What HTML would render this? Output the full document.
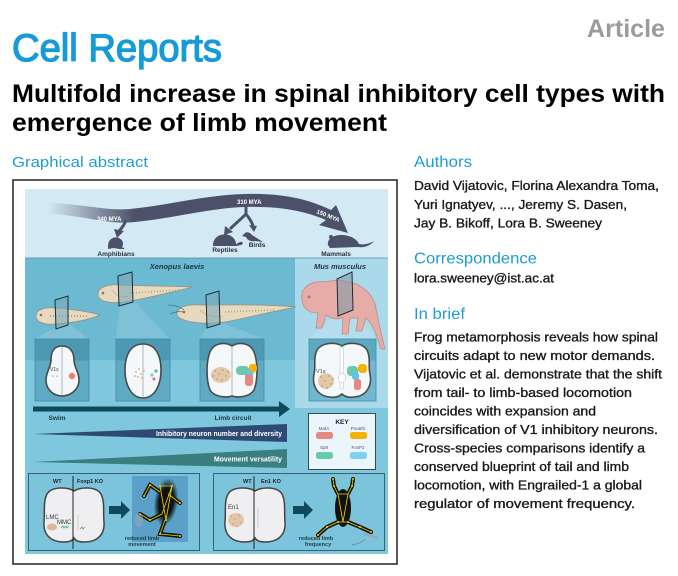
<!DOCTYPE html>
<html><head><meta charset="utf-8"><style>
html,body{margin:0;padding:0;background:#fff;}
svg{display:block;}
text{font-family:"Liberation Sans",Arial,sans-serif;}
</style></head><body>
<svg width="678" height="576" viewBox="0 0 678 576" xmlns="http://www.w3.org/2000/svg">
<defs>
<linearGradient id="arcg" gradientUnits="userSpaceOnUse" x1="48" y1="0" x2="135" y2="0">
<stop offset="0" stop-color="#4c516a" stop-opacity="0"/>
<stop offset="1" stop-color="#4c516a" stop-opacity="1"/>
</linearGradient>
<radialGradient id="frogblur" cx="0.5" cy="0.5" r="0.5">
<stop offset="0.6" stop-color="#111" stop-opacity="1"/>
<stop offset="1" stop-color="#111" stop-opacity="0"/>
</radialGradient>
</defs>

<!-- HEADER -->
<text x="587" y="37" font-size="25" font-weight="bold" fill="#9b9b9b" textLength="78" lengthAdjust="spacingAndGlyphs">Article</text>
<text x="12" y="61" font-size="39" fill="#169bd6" stroke="#169bd6" stroke-width="1.3" textLength="210" lengthAdjust="spacingAndGlyphs">Cell Reports</text>
<text x="12" y="102" font-size="25" font-weight="bold" fill="#000" textLength="653" lengthAdjust="spacingAndGlyphs">Multifold increase in spinal inhibitory cell types with</text>
<text x="12" y="131" font-size="25" font-weight="bold" fill="#000" textLength="375" lengthAdjust="spacingAndGlyphs">emergence of limb movement</text>
<text x="12" y="167" font-size="15" fill="#1f9cd5" textLength="136" lengthAdjust="spacingAndGlyphs">Graphical abstract</text>

<!-- RIGHT COLUMN -->
<g fill="#1a1a1a" font-size="13" stroke="#1a1a1a" stroke-width="0.35">
<text x="414" y="190" textLength="245" lengthAdjust="spacingAndGlyphs">David Vijatovic, Florina Alexandra Toma,</text>
<text x="414" y="209" textLength="213" lengthAdjust="spacingAndGlyphs">Yuri Ignatyev, ..., Jeremy S. Dasen,</text>
<text x="414" y="227.5" textLength="188" lengthAdjust="spacingAndGlyphs">Jay B. Bikoff, Lora B. Sweeney</text>
<text x="414" y="282.5" textLength="140" lengthAdjust="spacingAndGlyphs">lora.sweeney@ist.ac.at</text>
<text x="414" y="341.5" textLength="244" lengthAdjust="spacingAndGlyphs">Frog metamorphosis reveals how spinal</text>
<text x="414" y="360" textLength="241" lengthAdjust="spacingAndGlyphs">circuits adapt to new motor demands.</text>
<text x="414" y="378.5" textLength="248" lengthAdjust="spacingAndGlyphs">Vijatovic et al. demonstrate that the shift</text>
<text x="414" y="397" textLength="218" lengthAdjust="spacingAndGlyphs">from tail- to limb-based locomotion</text>
<text x="414" y="415.5" textLength="182" lengthAdjust="spacingAndGlyphs">coincides with expansion and</text>
<text x="414" y="434" textLength="244" lengthAdjust="spacingAndGlyphs">diversification of V1 inhibitory neurons.</text>
<text x="414" y="452.5" textLength="231" lengthAdjust="spacingAndGlyphs">Cross-species comparisons identify a</text>
<text x="414" y="471" textLength="215" lengthAdjust="spacingAndGlyphs">conserved blueprint of tail and limb</text>
<text x="414" y="489.5" textLength="228" lengthAdjust="spacingAndGlyphs">locomotion, with Engrailed-1 a global</text>
<text x="414" y="508" textLength="221" lengthAdjust="spacingAndGlyphs">regulator of movement frequency.</text>
</g>
<g fill="#1f9cd5" font-size="15.5">
<text x="414" y="167" textLength="58" lengthAdjust="spacingAndGlyphs">Authors</text>
<text x="414" y="263.5" textLength="123" lengthAdjust="spacingAndGlyphs">Correspondence</text>
<text x="414" y="319" textLength="51" lengthAdjust="spacingAndGlyphs">In brief</text>
</g>

<!-- GRAPHICAL ABSTRACT FRAME -->
<rect x="13" y="180" width="384" height="384" fill="#fff" stroke="#222" stroke-width="1.5"/>
<rect x="25" y="189" width="363" height="69" fill="#d3e9f3"/>
<rect x="25" y="258" width="363" height="296" fill="#7fc7dd"/>
<rect x="25" y="258" width="270" height="102" fill="#6cb9d2"/>
<rect x="295" y="258" width="93" height="150" fill="#a9d9eb"/>
<line x1="25" y1="258" x2="388" y2="258" stroke="#4f8ea8" stroke-width="0.8"/>

<!-- evolution arc -->
<path d="M48,203 C85,204 105,211 130,209 C170,205 205,195 245,194 C285,193 310,200 331,210 L336,205 L348,233 L319,225 L326,220 C305,211 280,206 245,207 C210,208 175,218 135,222 C105,225 85,215 48,214 Z" fill="url(#arcg)"/>
<g stroke="#4c516a" stroke-width="3" fill="none">
<path d="M126,220 C124,226 121,229 119,231"/>
<path d="M246,207 L246,214 C240,220 234,225 230,229"/>
<path d="M246,214 C250,219 252,222 253,226"/>
</g>
<g fill="#4c516a">
<polygon points="114,229 124,231 117,238"/>
<polygon points="225,226 233,232 224,235"/>
<polygon points="249,225 257,226 254,232"/>
<path d="M108,246 C108,239 114,236 119,238 C123,240 124,244 122,247 L125,249 L119,249 L114,248 L108,249 Z"/>
<path d="M213,244 C214,236 222,233 229,235 C234,237 236,241 236,244 L240,242 C243,241 244,244 241,245 L236,246 L213,246 Z"/>
<path d="M244,234 C246,231 250,232 252,235 C255,237 260,240 263,242 L255,241 C251,242 247,240 246,237 L242,236 Z"/>
<path d="M328,245 C327,239 333,235 341,235 C350,235 357,239 359,244 C363,245 369,244 374,241 C370,246 364,248 358,247 L330,248 Z"/>
<circle cx="331" cy="237" r="2"/>
</g>
<g font-size="6.5" font-weight="bold" fill="#2b2f3c" text-anchor="middle">
<text x="116" y="256">Amphibians</text>
<text x="225" y="252">Reptiles</text>
<text x="257" y="247">Birds</text>
<text x="336" y="256">Mammals</text>
</g>
<g font-size="6" font-weight="bold" fill="#ffffff">
<text x="97" y="221">340 MYA</text>
<text x="237" y="204">310 MYA</text>
<text x="316" y="213" transform="rotate(22 316 213)">150 MYA</text>
</g>

<g font-size="7.5" font-weight="bold" font-style="italic" fill="#1f3540" text-anchor="middle">
<text x="177" y="269">Xenopus laevis</text>
<text x="340" y="269">Mus musculus</text>
</g>

<!-- projection wedges -->
<g fill="#ffffff" fill-opacity="0.13">
<polygon points="56,327 35,339 89,339 68,323"/>
<polygon points="120,304 116,339 170,339 133,300"/>
<polygon points="207,326 200,339 264,339 220,322"/>
<polygon points="338,314 309,339 376,339 352,309"/>
</g>

<!-- tadpole 1 -->
<path d="M36,316 C36,310 44,307 55,308 C70,309 86,311 100,315 C88,320 72,323 55,324 C44,325 36,322 36,316 Z" fill="#e6d9be" stroke="#9c8d72" stroke-width="0.7"/>
<circle cx="41" cy="315" r="1.3" fill="#8a6f55"/>
<line x1="50" y1="316" x2="88" y2="316" stroke="#b0a084" stroke-width="2" stroke-dasharray="1 2"/>
<polygon points="55,300 68,296 68,325 56,329" fill="#7aaabb" fill-opacity="0.6" stroke="#1c2c36" stroke-width="1"/>
<!-- tadpole 2 -->
<path d="M98,294 C98,287 108,284 122,285 C142,286 168,286 193,287 C172,292 148,298 125,302 C108,304 98,301 98,294 Z" fill="#e6d9be" stroke="#9c8d72" stroke-width="0.7"/>
<circle cx="103" cy="293" r="1.3" fill="#8a6f55"/>
<path d="M112,290 C116,296 122,298 128,296" stroke="#b8a88c" stroke-width="0.6" fill="none"/>
<line x1="130" y1="293" x2="180" y2="290" stroke="#b0a084" stroke-width="1.5" stroke-dasharray="1 2"/>
<polygon points="118,276 132,272 133,302 119,306" fill="#7aaabb" fill-opacity="0.6" stroke="#1c2c36" stroke-width="1"/>
<!-- tadpole 3 -->
<path d="M177,314 C177,307 187,304 202,305 C228,305 262,304 296,307 C270,312 245,318 225,322 C205,325 177,322 177,314 Z" fill="#e6d9be" stroke="#9c8d72" stroke-width="0.7"/>
<path d="M184,310 C178,306 174,305 168,305 M184,312 C178,311 174,312 170,314" stroke="#3a5a6a" stroke-width="0.6" fill="none"/>
<circle cx="184" cy="312" r="1.3" fill="#8a6f55"/>
<path d="M200,310 C206,316 214,318 222,316" stroke="#b8a88c" stroke-width="0.6" fill="none"/>
<line x1="225" y1="312" x2="275" y2="310" stroke="#b0a084" stroke-width="1.5" stroke-dasharray="1 2"/>
<polygon points="206,295 219,291 220,324 207,328" fill="#7aaabb" fill-opacity="0.6" stroke="#1c2c36" stroke-width="1"/>
<!-- mouse pup -->
<path d="M302,300 C300,288 310,280 325,282 C345,277 368,284 375,304 C378,318 380,330 385,349 L381,349 C376,333 372,323 366,318 L362,331 L356,331 L358,318 L350,318 L348,334 L342,334 L343,318 C336,320 330,318 326,315 L322,328 L316,328 L318,313 C308,313 303,308 302,300 Z" fill="#e6aca8" stroke="#c48884" stroke-width="0.8"/>
<circle cx="309" cy="297" r="1.5" fill="#b87570"/>
<polygon points="337,279 352,272 353,310 338,316" fill="#7a9aa6" fill-opacity="0.55" stroke="#1c2c36" stroke-width="1"/>

<!-- cross-section boxes -->
<g stroke="#3f8aa5" stroke-width="0.8">
<rect x="35" y="339" width="54" height="62" fill="#5eaac3"/>
<rect x="116" y="339" width="54" height="62" fill="#5eaac3"/>
<rect x="200" y="339" width="64" height="62" fill="#5eaac3"/>
<rect x="309" y="339" width="67" height="62" fill="#6fb8cf"/>
</g>
<g fill="#4d99b3">
<rect x="35.5" y="339.5" width="53" height="21"/>
<rect x="116.5" y="339.5" width="53" height="21"/>
<rect x="200.5" y="339.5" width="63" height="21"/>
<rect x="309.5" y="339.5" width="66" height="21" fill="#5ea9c2"/>
</g>
<g fill="#f4f8fb" stroke="#4a4a4a" stroke-width="1.6">
<path d="M62,346 C54,346 51,352 51,360 C51,367 46,372 46,380 C46,390 54,396 62,396 C70,396 79,390 79,380 C79,372 74,367 74,360 C74,352 70,346 62,346 Z"/>
<path d="M143,344 C130,344 125,356 125,370 C125,386 132,398 143,398 C154,398 161,386 161,370 C161,356 156,344 143,344 Z"/>
<path d="M232,346 C226,342 214,342 210,352 C206,362 206,380 210,390 C214,397 226,398 232,396 C238,398 250,397 254,390 C258,380 258,362 254,352 C250,342 238,342 232,346 Z"/>
<path d="M342,346 C336,342 322,342 317,350 C313,358 316,366 314,374 C312,384 316,396 330,397 C336,398 340,396 342,394 C344,396 348,398 354,397 C368,396 372,384 370,374 C368,366 371,358 367,350 C362,342 348,342 342,346 Z"/>
</g>
<g stroke="#8a8a8a" stroke-width="0.6">
<line x1="62" y1="347" x2="62" y2="395"/>
<line x1="143" y1="345" x2="143" y2="397"/>
<line x1="232" y1="347" x2="232" y2="395"/>
</g>
<rect x="340" y="347" width="3.5" height="42" rx="1.5" fill="#ffffff" stroke="#9aa" stroke-width="0.4"/>
<ellipse cx="342" cy="378" rx="3.5" ry="5" fill="#fff" stroke="#9aa" stroke-width="0.4"/>
<text x="50" y="371" font-size="5" fill="#444">V1s</text>
<g fill="#c8a27c"><circle cx="53" cy="376" r="0.8"/><circle cx="57" cy="376" r="0.8"/></g>
<circle cx="72" cy="376" r="3.2" fill="#e98077"/>
<g fill="#d3a680">
<circle cx="136" cy="372" r="0.9"/><circle cx="139" cy="369" r="0.9"/><circle cx="141" cy="374" r="0.9"/><circle cx="138" cy="377" r="0.9"/><circle cx="144" cy="371" r="0.9"/><circle cx="135" cy="376" r="0.9"/><circle cx="142" cy="378" r="0.9"/>
</g>
<circle cx="156" cy="371" r="1.6" fill="#4fc2a3"/>
<circle cx="152" cy="375" r="1.6" fill="#6fcdf0"/>
<circle cx="154" cy="379" r="1.6" fill="#e2776f"/>
<ellipse cx="221" cy="375" rx="10" ry="8" fill="#dfc09a" opacity="0.85"/>
<g fill="#c49a70">
<circle cx="215" cy="371" r="0.9"/><circle cx="219" cy="374" r="0.9"/><circle cx="223" cy="370" r="0.9"/><circle cx="226" cy="376" r="0.9"/><circle cx="217" cy="379" r="0.9"/><circle cx="222" cy="380" r="0.9"/><circle cx="228" cy="372" r="0.9"/><circle cx="213" cy="376" r="0.9"/>
</g>
<rect x="236" y="366" width="13" height="9" rx="4" fill="#6cc9a8"/>
<rect x="245" y="373" width="8" height="13" rx="3" fill="#e58a83"/>
<rect x="246" y="368" width="8" height="7" rx="3" fill="#5cc6ef"/>
<rect x="249" y="364" width="8" height="8" rx="3" fill="#f6b400"/>
<text x="316" y="373" font-size="5.5" fill="#444">V1s</text>
<ellipse cx="326" cy="381" rx="8" ry="8" fill="#dfc09a" opacity="0.85"/>
<g fill="#c49a70">
<circle cx="321" cy="377" r="0.9"/><circle cx="325" cy="381" r="0.9"/><circle cx="329" cy="376" r="0.9"/><circle cx="331" cy="384" r="0.9"/><circle cx="322" cy="386" r="0.9"/><circle cx="327" cy="388" r="0.9"/><circle cx="333" cy="379" r="0.9"/>
</g>
<rect x="347" y="366" width="11" height="10" rx="4" fill="#6cc9a8"/>
<rect x="358" y="364" width="9" height="9" rx="3.5" fill="#f6b400"/>
<rect x="352" y="372" width="7" height="8" rx="3" fill="#5cc6ef"/>
<rect x="354" y="379" width="7" height="11" rx="2.5" fill="#e58a83"/>

<!-- progression arrow -->
<rect x="33" y="406.5" width="250" height="5" fill="#0e4a5b"/>
<polygon points="279,401 290,409 279,417" fill="#0e4a5b"/>
<g font-size="6.5" font-weight="bold" fill="#1d3a44" text-anchor="middle">
<text x="57" y="420">Swim</text>
<text x="233" y="420">Limb circuit</text>
</g>

<polygon points="33,434 287,424 287,442" fill="#2e4a73"/>
<text x="156" y="436" font-size="7.5" font-weight="bold" fill="#fff" textLength="126" lengthAdjust="spacingAndGlyphs">Inhibitory neuron number and diversity</text>
<polygon points="33,462 287,449 287,468" fill="#3a7e80"/>
<text x="214" y="461.5" font-size="7.5" font-weight="bold" fill="#fff" textLength="68" lengthAdjust="spacingAndGlyphs">Movement versatility</text>

<!-- KEY -->
<rect x="308.5" y="413.5" width="67" height="56" fill="#eaf6fb" stroke="#3a4a55" stroke-width="1"/>
<text x="342" y="424" font-size="6.5" font-weight="bold" fill="#222" text-anchor="middle">KEY</text>
<g font-size="4.5" fill="#555" text-anchor="middle">
<text x="324" y="430">MafA</text>
<text x="358" y="430">Pou6f2</text>
<text x="324" y="449">Sp8</text>
<text x="358" y="449">FoxP2</text>
</g>
<rect x="316" y="432" width="17" height="7" rx="2.5" fill="#e58a83"/>
<rect x="350" y="432" width="17" height="7" rx="2.5" fill="#f6b400"/>
<rect x="316" y="452" width="17" height="7" rx="2.5" fill="#6cc9a8"/>
<rect x="350" y="452" width="17" height="7" rx="2.5" fill="#7fd0f0"/>

<!-- bottom panels -->
<rect x="28.5" y="473.5" width="171" height="77" fill="#7cc4db" stroke="#3b6070" stroke-width="1"/>
<rect x="213.5" y="473.5" width="171" height="77" fill="#7cc4db" stroke="#3b6070" stroke-width="1"/>

<!-- panel 1 -->
<path d="M74,491 C68,487 52,486 47,494 C43,502 45,512 44,522 C43,534 50,542 64,542 C70,542 73,540 74,538 C75,540 78,542 84,542 C98,542 105,534 104,522 C103,512 105,502 101,494 C96,486 80,487 74,491 Z" fill="#efeff2" stroke="#444" stroke-width="1.5"/>
<line x1="73" y1="476" x2="73" y2="549" stroke="#222" stroke-width="1"/>
<line x1="78" y1="515" x2="78" y2="530" stroke="#aaa" stroke-width="0.5"/>
<g font-size="5.5" font-weight="bold" fill="#222">
<text x="53" y="483">WT</text>
<text x="77" y="483">Foxp1 KO</text>
</g>
<g font-size="6" fill="#333">
<text x="46" y="519">LMC</text>
<text x="57" y="524">MMC</text>
</g>
<ellipse cx="52" cy="527" rx="5" ry="3.5" fill="#d9b896"/>
<g stroke="#3ea85a" stroke-width="0.7" fill="none">
<path d="M61,528 l2,-2 l1,2 l2,-2 l1,2 l2,-2"/>
<path d="M80,529 l2,-2 l1,2 l2,-2"/>
</g>
<polygon points="109,506 121,506 121,501 130,510 121,519 121,514 109,514" fill="#0e4a5b"/>
<rect x="132" y="476" width="56" height="66" fill="#5aa0c8"/>
<ellipse cx="166" cy="502" rx="12" ry="24" fill="url(#frogblur)" transform="rotate(8 166 502)"/>
<g stroke="#111" stroke-width="4" fill="none" stroke-linecap="round">
<path d="M160,492 L150,485 L144,496"/>
<path d="M168,494 L180,503"/>
<path d="M162,514 L150,520 L140,514"/>
<path d="M165,520 L160,534 L180,536"/>
</g>
<g stroke="#f2d600" stroke-width="0.8" fill="none">
<path d="M160,486 L172,486 L166,520 Z M160,492 L150,485 L144,496 M168,494 L180,503 M162,514 L150,520 L140,514 M165,520 L160,534 L180,536 M160,486 L166,520 M172,486 L162,514"/>
</g>
<g fill="#f2d600">
<circle cx="150" cy="485" r="1"/><circle cx="144" cy="496" r="1"/><circle cx="150" cy="520" r="1"/><circle cx="140" cy="514" r="1"/><circle cx="160" cy="534" r="1"/><circle cx="180" cy="536" r="1"/><circle cx="180" cy="503" r="1"/><circle cx="160" cy="486" r="1"/><circle cx="172" cy="486" r="1"/><circle cx="166" cy="520" r="1"/>
</g>
<ellipse cx="139" cy="520" rx="4" ry="7" fill="#9aa6b0" opacity="0.6"/>
<g font-size="5.5" font-weight="bold" fill="#1d3a44" text-anchor="middle">
<text x="142" y="540">reduced limb</text>
<text x="142" y="546">movement</text>
</g>

<!-- panel 2 -->
<path d="M255,491 C249,487 233,486 228,494 C224,502 226,512 225,522 C224,534 231,542 245,542 C251,542 254,540 255,538 C256,540 259,542 265,542 C279,542 286,534 285,522 C284,512 286,502 282,494 C277,486 261,487 255,491 Z" fill="#efeff2" stroke="#444" stroke-width="1.5"/>
<line x1="254" y1="476" x2="254" y2="549" stroke="#222" stroke-width="1"/>
<line x1="258" y1="508" x2="258" y2="528" stroke="#aaa" stroke-width="0.5"/>
<g font-size="5.5" font-weight="bold" fill="#222">
<text x="243" y="483">WT</text>
<text x="261" y="483">En1 KO</text>
</g>
<text x="228" y="509" font-size="6" fill="#333">En1</text>
<ellipse cx="236" cy="520" rx="8" ry="7" fill="#dfc09a" opacity="0.85"/>
<g fill="#c49a70">
<circle cx="231" cy="516" r="0.8"/><circle cx="235" cy="519" r="0.8"/><circle cx="239" cy="515" r="0.8"/><circle cx="241" cy="522" r="0.8"/><circle cx="233" cy="524" r="0.8"/><circle cx="237" cy="526" r="0.8"/>
</g>
<polygon points="293,506 304,506 304,501 313,510 304,519 304,514 293,514" fill="#0e4a5b"/>
<g stroke="#9aa6b0" stroke-width="3" fill="none" opacity="0.7">
<path d="M322,536 L312,540"/>
<path d="M364,534 L378,538"/>
</g>
<ellipse cx="343" cy="508" rx="8" ry="19" fill="#111"/>
<g stroke="#111" stroke-width="4" fill="none" stroke-linecap="round">
<path d="M338,494 L334,486 L333,479"/>
<path d="M348,494 L352,486 L353,479"/>
<path d="M338,522 L327,527 L318,535"/>
<path d="M348,522 L360,527 L371,532"/>
</g>
<g stroke="#f2d600" stroke-width="0.8" fill="none">
<path d="M338,494 L334,486 L333,479 M348,494 L352,486 L353,479 M338,494 L348,494 L343,522 Z M338,522 L327,527 L318,535 M348,522 L360,527 L371,532 M338,522 L348,522"/>
</g>
<g fill="#f2d600">
<circle cx="333" cy="479" r="1"/><circle cx="353" cy="479" r="1"/><circle cx="334" cy="486" r="1"/><circle cx="352" cy="486" r="1"/><circle cx="327" cy="527" r="1"/><circle cx="360" cy="527" r="1"/><circle cx="318" cy="535" r="1"/><circle cx="371" cy="532" r="1"/><circle cx="338" cy="522" r="1"/><circle cx="348" cy="522" r="1"/>
</g>
<path d="M352,545 C358,544 362,542 366,539" stroke="#333" stroke-width="0.6" stroke-dasharray="1 1.2" fill="none"/>
<g font-size="5.5" font-weight="bold" fill="#1d3a44" text-anchor="middle">
<text x="316" y="540">reduced limb</text>
<text x="318" y="546">frequency</text>
</g>
</svg>
</body></html>
